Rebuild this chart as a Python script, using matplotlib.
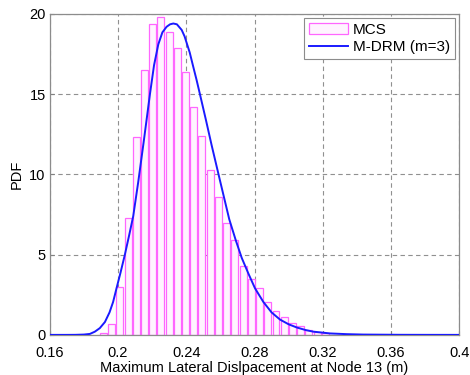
import matplotlib.pyplot as plt

# --- MCS histogram (bin centres and PDF heights) ---
bin_centers = [0.1914, 0.1962, 0.2010, 0.2059, 0.2107, 0.2155, 0.2203, 0.2251,
               0.2300, 0.2348, 0.2396, 0.2444, 0.2492, 0.2541, 0.2589, 0.2637,
               0.2685, 0.2733, 0.2782, 0.2830, 0.2878, 0.2926, 0.2974, 0.3023,
               0.3071, 0.3119, 0.3167, 0.3215]
mcs_pdf = [0.1, 0.68, 3.0, 7.3, 12.3, 16.5, 19.4, 19.8, 18.9, 17.9, 16.4, 14.2,
           12.4, 10.3, 8.6, 7.0, 5.9, 4.3, 3.5, 2.9, 2.05, 1.5, 1.14, 0.77,
           0.56, 0.31, 0.17, 0.1]

# --- M-DRM (m=3) PDF curve ---
drm_x = [0.16, 0.170, 0.175, 0.180, 0.1835, 0.1864, 0.1893, 0.1923, 0.1950,
         0.1971, 0.1991, 0.2015, 0.2040, 0.2065, 0.2089, 0.2118, 0.2150, 0.2187,
         0.2211, 0.2236, 0.2260, 0.2285, 0.2305, 0.2324, 0.2345, 0.2373, 0.2390,
         0.2402, 0.2420, 0.2441, 0.2460, 0.2480, 0.2515, 0.2549, 0.2598, 0.2652,
         0.2690, 0.2725, 0.2765, 0.2803, 0.2852, 0.2900, 0.2950, 0.3000, 0.3048,
         0.3100, 0.3145, 0.3243, 0.3340, 0.3437, 0.3654, 0.3800, 0.40]
drm_pdf = [0.0, 0.0, 0.003, 0.02, 0.06, 0.2, 0.42, 0.8, 1.4, 2.05, 2.9, 3.9,
           5.0, 6.2, 7.4, 9.5, 12.0, 15.0, 16.8, 18.1, 18.85, 19.2, 19.35, 19.4,
           19.35, 19.0, 18.6, 18.2, 17.6, 16.7, 15.9, 15.0, 13.4, 11.8, 9.6,
           7.2, 5.9, 4.8, 3.8, 2.9, 2.05, 1.4, 0.95, 0.66, 0.46, 0.3, 0.2, 0.09,
           0.045, 0.02, 0.005, 0.002, 0.0]

xticks = [0.16, 0.2, 0.24, 0.28, 0.32, 0.36, 0.4]
xtick_labels = ["0.16", "0.2", "0.24", "0.28", "0.32", "0.36", "0.4"]
yticks = [0, 5, 10, 15, 20]

plt.rcParams["font.family"] = ["Liberation Sans", "DejaVu Sans"]
plt.rcParams["font.size"] = 10.5

fig = plt.figure(figsize=(4.7, 3.75), dpi=100)
ax = fig.add_axes([0.106, 0.107, 0.871, 0.856])

bars = ax.bar(bin_centers, mcs_pdf, width=0.0041, facecolor="#fff4ff",
              edgecolor="#ff66ff", linewidth=0.9, label="MCS", zorder=2)
line, = ax.plot(drm_x, drm_pdf, color="#1a1aff", linewidth=1.4,
                label="M-DRM (m=3)", zorder=3)

ax.set_xlim(0.16, 0.4)
ax.set_ylim(0, 20)
ax.set_xticks(xticks)
ax.set_xticklabels(xtick_labels)
ax.set_yticks(yticks)
ax.tick_params(direction="in", length=3, color="#808080")
ax.tick_params(axis="x", pad=8)
ax.tick_params(axis="y", pad=3)
ax.grid(True, linestyle=(0, (4, 3)), color="#909090", linewidth=0.8, zorder=0)
ax.set_axisbelow(True)
for s in ax.spines.values():
    s.set_color("#8c8c8c")
    s.set_linewidth(0.9)

ax.set_xlabel("Maximum Lateral Dislpacement at Node 13 (m)", labelpad=1)
ax.set_ylabel("PDF", labelpad=4)

leg = ax.legend([bars, line], ["MCS", "M-DRM (m=3)"], loc="upper right",
                fancybox=False, framealpha=1, edgecolor="#8c8c8c",
                borderaxespad=0.3, handlelength=2.6, handletextpad=0.3,
                borderpad=0.3, labelspacing=0.2, fontsize=11)
leg.get_frame().set_linewidth(0.8)

fig.savefig("out.png", dpi=100)
